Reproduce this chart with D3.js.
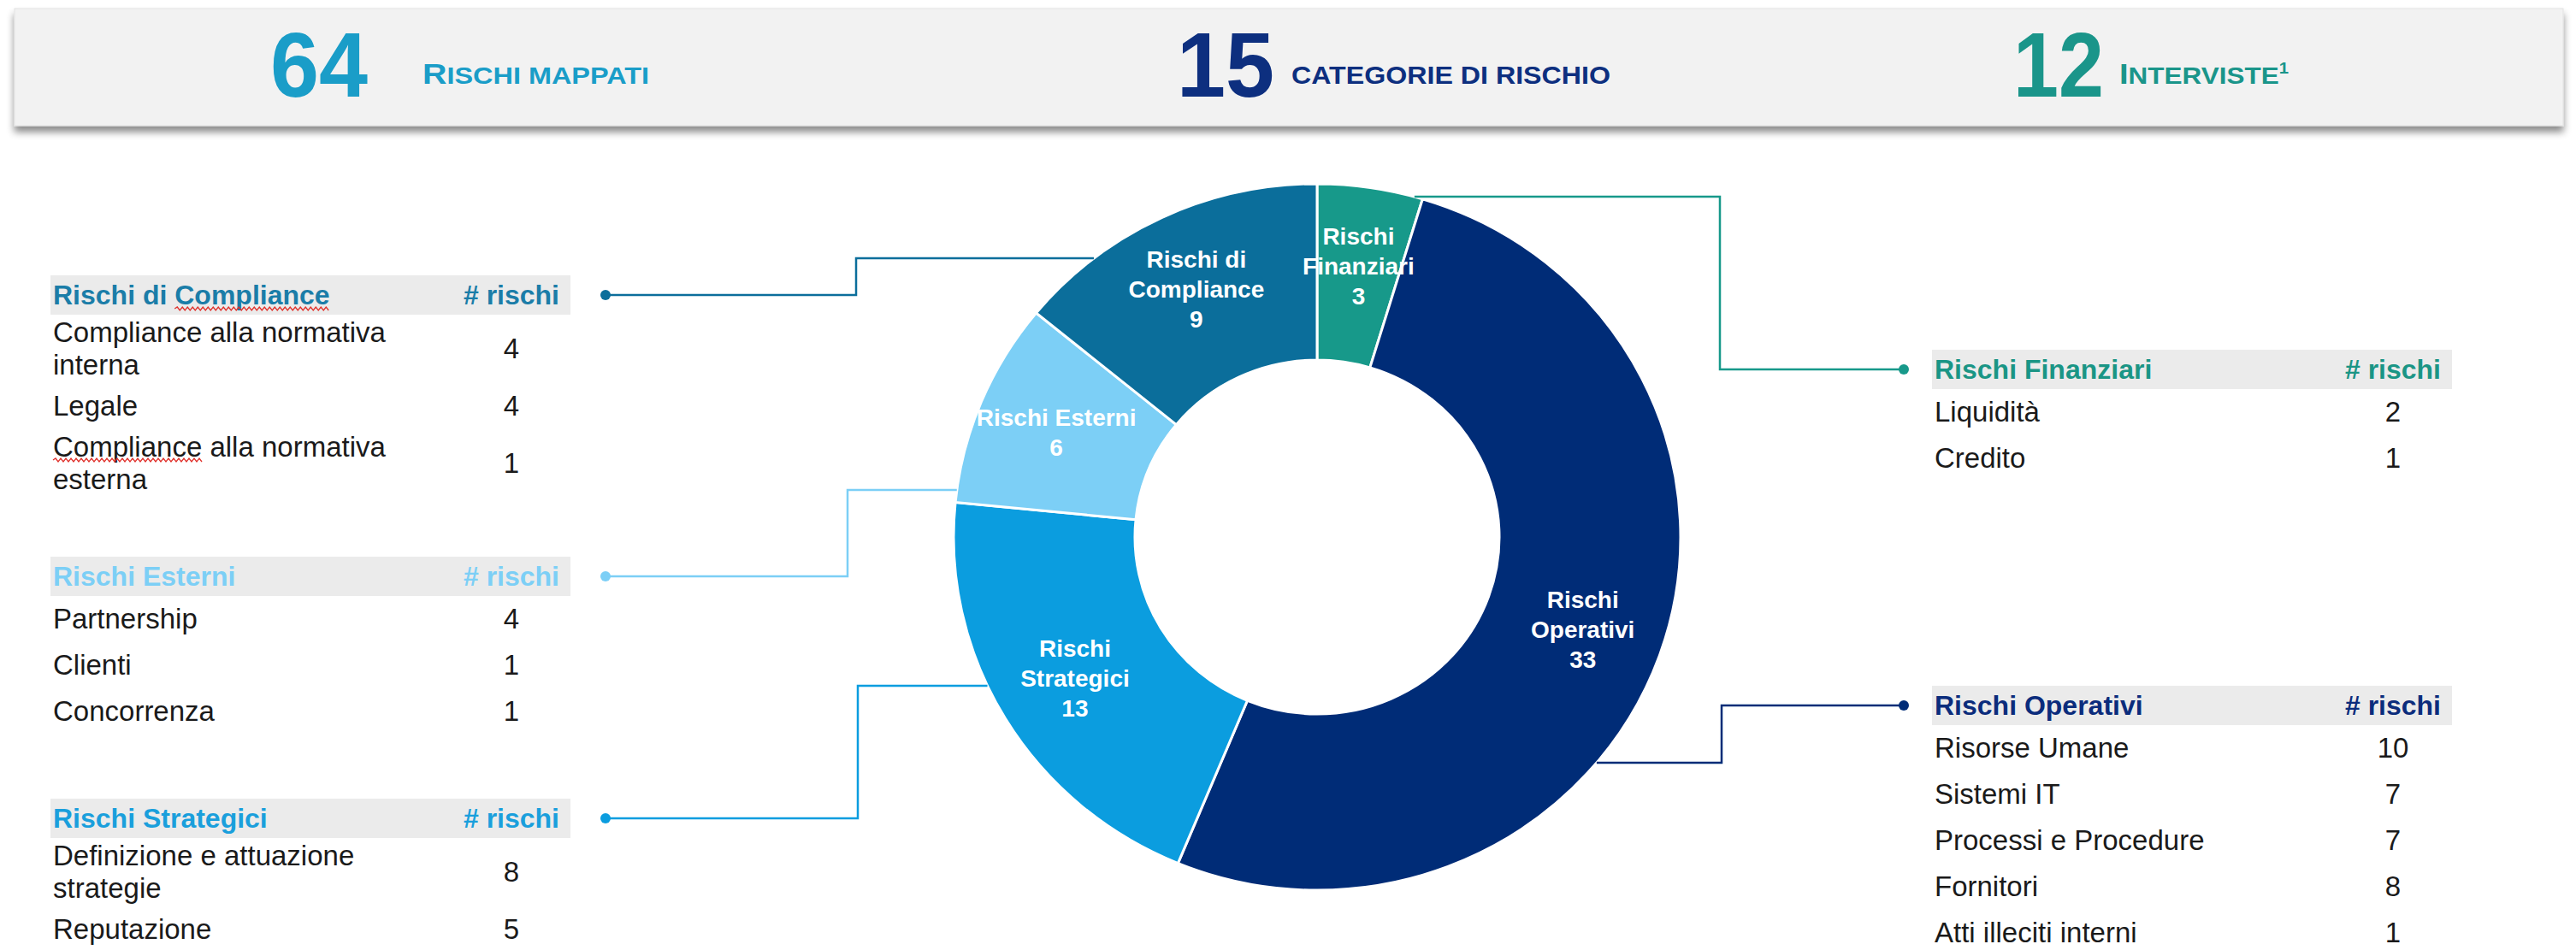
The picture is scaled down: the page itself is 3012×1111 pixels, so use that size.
<!DOCTYPE html>
<html>
<head>
<meta charset="utf-8">
<script src="https://cdn.jsdelivr.net/npm/d3@7"></script>
<style>
  html, body { margin: 0; padding: 0; background: #fff; }
  svg { display: block; font-family: "Liberation Sans", Arial, sans-serif; }
</style>
</head>
<body>
<svg id="chart" width="3012" height="1111"></svg>
<script>
// KPI banner
var kpiValues = [64, 15, 12],
    kpiLabels = ["Rischi mappati", "Categorie di rischio", "Interviste"],
    kpiNotes = ["", "", "1"];

// donut categories, clockwise from 12 o'clock
var categories = ["Rischi Finanziari", "Rischi Operativi", "Rischi Strategici", "Rischi Esterni", "Rischi di Compliance"],
    counts = [3, 33, 13, 6, 9];

// breakdown of every category
var finanziariItems = ["Liquidità", "Credito"],
    finanziariCounts = [2, 1];
var operativiItems = ["Risorse Umane", "Sistemi IT", "Processi e Procedure", "Fornitori", "Atti illeciti interni"],
    operativiCounts = [10, 7, 7, 8, 1];
var strategiciItems = ["Definizione e attuazione strategie", "Reputazione"],
    strategiciCounts = [8, 5];
var esterniItems = ["Partnership", "Clienti", "Concorrenza"],
    esterniCounts = [4, 1, 1];
var complianceItems = ["Compliance alla normativa interna", "Legale", "Compliance alla normativa esterna"],
    complianceCounts = [4, 4, 1];

var columnHeader = "# rischi";
// words the spell checker underlined in the original slide
var spellFlagged = ["Rischi di Compliance", "Compliance alla normativa esterna"];

var svg = d3.select("#chart"),
    colors = ["#17998a", "#002c77", "#0b9ddf", "#7ccff6", "#0b6e9b"],
    headerColors = ["#1a9585", "#0b2c7c", "#1a9fdc", "#7ccff6", "#1b7da8"],
    kpiColors = ["#1a9dc8", "#0d2f7f", "#1a958a"];

var defs = svg.append("defs");
defs.append("filter").attr("id", "shadow")
    .attr("x", "-2%").attr("y", "-20%").attr("width", "104%").attr("height", "160%")
  .append("feDropShadow")
    .attr("dx", 0).attr("dy", 7).attr("stdDeviation", 4)
    .attr("flood-color", "#000").attr("flood-opacity", 0.45);

// ---- banner ----
svg.append("rect")
    .attr("x", 17).attr("y", 10).attr("width", 2980).attr("height", 137)
    .attr("fill", "#f2f2f2").attr("stroke", "#e2e2e2")
    .attr("filter", "url(#shadow)");

var kpiLayout = [
  {numX: 316, labelX: 494, labelW: 265, smallCaps: true},
  {numX: 1376, labelX: 1510, labelW: 373, smallCaps: false},
  {numX: 2354, labelX: 2478, labelW: 198, smallCaps: true}
];

kpiValues.forEach(function(v, i) {
  var L = kpiLayout[i];
  svg.append("text")
      .attr("x", L.numX).attr("y", 113)
      .attr("font-size", 108).attr("font-weight", "bold")
      .attr("fill", kpiColors[i])
      .attr("textLength", i === 2 ? 106 : 114)
      .attr("lengthAdjust", "spacingAndGlyphs")
      .text(v);

  var t = svg.append("text")
      .attr("x", L.labelX).attr("y", 98)
      .attr("font-weight", "bold")
      .attr("fill", kpiColors[i])
      .attr("textLength", L.labelW)
      .attr("lengthAdjust", "spacingAndGlyphs");
  var label = kpiLabels[i].toUpperCase();
  if (L.smallCaps) {
    t.append("tspan").attr("font-size", 34).text(label[0]);
    t.append("tspan").attr("font-size", 28).text(label.slice(1));
  } else {
    t.append("tspan").attr("font-size", 30).text(label);
  }
  if (kpiNotes[i]) {
    t.append("tspan").attr("font-size", 18).attr("dy", -12).text(kpiNotes[i]);
  }
});

// ---- donut ----
var cx = 1540, cy = 628, R = 425, r = 213, sy = 0.972;

var pie = d3.pie().sort(null).value(d => d),
    arcs = pie(counts),
    arc = d3.arc().innerRadius(r).outerRadius(R),
    labelArc = d3.arc().innerRadius(330).outerRadius(330);

var donut = svg.append("g")
    .attr("transform", "translate(" + cx + "," + cy + ") scale(1," + sy + ")");

donut.selectAll("path")
    .data(arcs)
    .enter()
    .append("path")
    .attr("d", arc)
    .attr("fill", (d, i) => colors[i])
    .attr("stroke", "#fff")
    .attr("stroke-width", 3)
    .attr("vector-effect", "non-scaling-stroke");

// text measuring helper for wrapping
var measurer = svg.append("text").attr("visibility", "hidden");
function textWidth(str, size, weight) {
  measurer.attr("font-size", size).attr("font-weight", weight || "normal").text(str);
  return measurer.node().getComputedTextLength();
}
function wrap(str, maxW, size, weight) {
  var words = str.split(" "), lines = [], cur = "";
  words.forEach(function(w) {
    var test = cur ? cur + " " + w : w;
    if (cur && textWidth(test, size, weight) > maxW) {
      lines.push(cur);
      cur = w;
    } else {
      cur = test;
    }
  });
  if (cur) lines.push(cur);
  return lines;
}

arcs.forEach(function(a, i) {
  var c = labelArc.centroid(a),
      lines = wrap(categories[i], 195, 28, "bold").concat([String(counts[i])]),
      lh = 35,
      x = cx + c[0],
      y = cy + c[1] * sy - (lines.length - 1) * lh / 2;
  var t = svg.append("text")
      .attr("text-anchor", "middle")
      .attr("font-size", 28).attr("font-weight", "bold")
      .attr("fill", "#fff");
  lines.forEach(function(l, k) {
    t.append("tspan").attr("x", x).attr("y", y + k * lh).attr("dy", "0.35em").text(l);
  });
});

// ---- tables with leader lines ----
var tables = [
  {cat: 0, items: finanziariItems, values: finanziariCounts, x: 2262, y: 432, dotX: 2226, elbowX: 2011, attachY: 230, side: 1},
  {cat: 1, items: operativiItems, values: operativiCounts, x: 2262, y: 825, dotX: 2226, elbowX: 2013, attachY: 892, side: 1},
  {cat: 2, items: strategiciItems, values: strategiciCounts, x: 62, y: 957, dotX: 708, elbowX: 1003, attachY: 802, side: -1},
  {cat: 3, items: esterniItems, values: esterniCounts, x: 62, y: 674, dotX: 708, elbowX: 991, attachY: 573, side: -1},
  {cat: 4, items: complianceItems, values: complianceCounts, x: 62, y: 345, dotX: 708, elbowX: 1001, attachY: 302, side: -1}
];

var bodySize = 33, headSize = 32, headH = 46, lineH = 38;

function squiggle(x0, x1, y) {
  var p = "M" + x0 + "," + y, up = true;
  for (var x = x0 + 3; x <= x1; x += 3) {
    p += "L" + x + "," + (y + (up ? -2 : 2));
    up = !up;
  }
  return p;
}

function drawText(sel, str, x, y, attrs) {
  var t = sel.append("text").attr("x", x).attr("y", y).attr("dy", "0.35em");
  Object.keys(attrs).forEach(k => t.attr(k, attrs[k]));
  t.text(str);
  return t;
}

function flagWord(t, str, flagged, y) {
  var idx = str.indexOf("Compliance");
  if (!flagged || idx < 0) return;
  var node = t.node(),
      x0 = +t.attr("x") + (idx > 0 ? node.getSubStringLength(0, idx) : 0),
      w = node.getSubStringLength(idx, 10);
  svg.append("path")
      .attr("d", squiggle(x0, x0 + w, y + 16))
      .attr("fill", "none").attr("stroke", "#e0302a").attr("stroke-width", 1.3);
}

tables.forEach(function(T) {
  var col = colors[T.cat], hcol = headerColors[T.cat];

  // leader line from the donut edge to the table
  var dy = (T.attachY - cy) / sy,
      ax = cx + T.side * Math.sqrt(R * R - dy * dy);
  svg.append("path")
      .attr("d", "M" + ax + "," + T.attachY + "H" + T.elbowX + "V" + T.y + "H" + T.dotX)
      .attr("fill", "none").attr("stroke", col).attr("stroke-width", 2.5);
  svg.append("circle")
      .attr("cx", T.dotX).attr("cy", T.y).attr("r", 6)
      .attr("fill", col);

  // header band
  svg.append("rect")
      .attr("x", T.x - 3).attr("y", T.y - headH / 2)
      .attr("width", 608).attr("height", headH)
      .attr("fill", "#ebebeb");
  var h = drawText(svg, categories[T.cat], T.x, T.y,
      {"font-size": headSize, "font-weight": "bold", "fill": hcol});
  flagWord(h, categories[T.cat], spellFlagged.indexOf(categories[T.cat]) >= 0, T.y);
  drawText(svg, columnHeader, T.x + 592, T.y,
      {"font-size": headSize, "font-weight": "bold", "fill": hcol, "text-anchor": "end"});

  // rows
  var top = T.y + headH / 2 - 1;
  T.items.forEach(function(item, k) {
    var lines = wrap(item, 430, bodySize),
        rh = lines.length > 1 ? 80 : 54,
        mid = top + rh / 2;
    lines.forEach(function(l, j) {
      var ly = mid + (j - (lines.length - 1) / 2) * lineH;
      var t = drawText(svg, l, T.x, ly, {"font-size": bodySize, "fill": "#1a1a1a"});
      flagWord(t, l, spellFlagged.indexOf(item) >= 0 && j === 0, ly);
    });
    drawText(svg, T.values[k], T.x + 536, mid,
        {"font-size": bodySize, "fill": "#1a1a1a", "text-anchor": "middle"});
    top += rh;
  });
});

measurer.remove();
</script>
</body>
</html>
